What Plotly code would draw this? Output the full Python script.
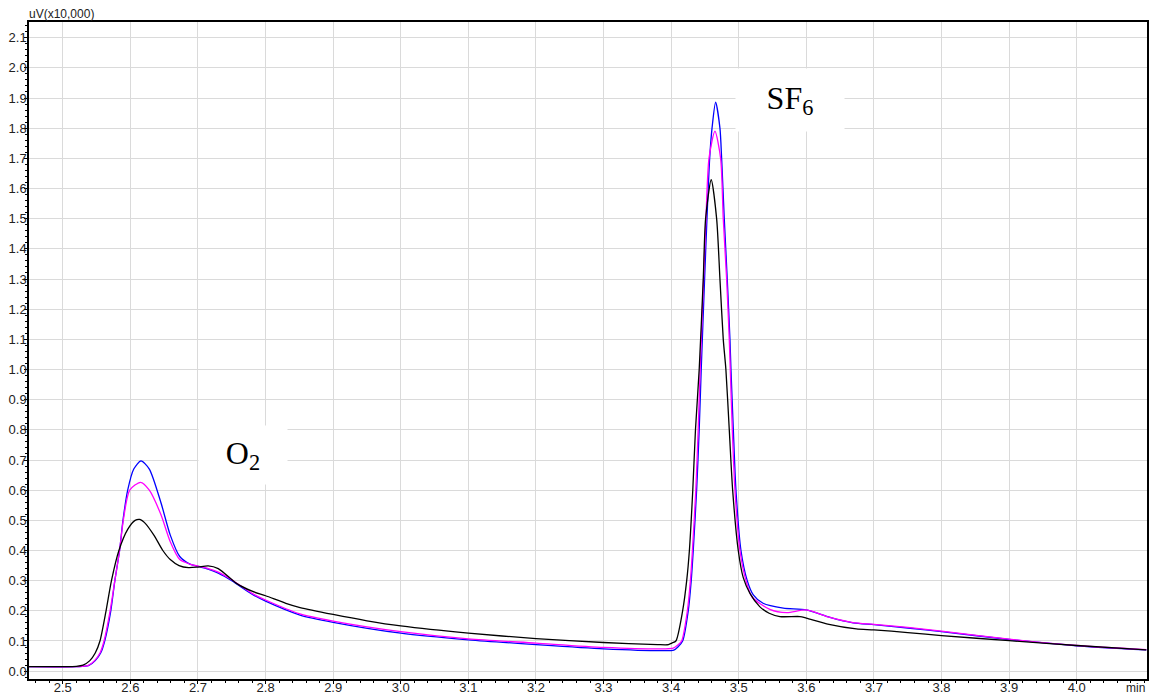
import plotly.graph_objects as go

# ---------------- data ----------------
black_x = [2.45, 2.50, 2.52, 2.530, 2.540, 2.548, 2.555, 2.564, 2.572, 2.583, 2.596, 2.607, 2.614,
           2.622, 2.635, 2.648, 2.659, 2.672, 2.686, 2.700, 2.715, 2.730, 2.757, 2.780, 2.800, 2.830,
           2.851, 2.900, 2.950, 3.000, 3.100, 3.200, 3.300, 3.380, 3.396, 3.401, 3.407, 3.417, 3.423,
           3.427, 3.432, 3.436, 3.4415, 3.4475, 3.451, 3.4593, 3.4673, 3.4722, 3.4771, 3.481,
           3.486, 3.491, 3.4993, 3.5067, 3.5166, 3.531, 3.545, 3.561, 3.5905, 3.600, 3.6335, 3.674,
           3.700, 3.750, 3.800, 3.900, 4.000, 4.103]
black_y = [0.015, 0.015, 0.016, 0.020, 0.035, 0.060, 0.100, 0.200, 0.300, 0.400, 0.470, 0.500, 0.503,
           0.490, 0.450, 0.400, 0.370, 0.350, 0.343, 0.345, 0.349, 0.340, 0.291, 0.265, 0.250, 0.225,
           0.211, 0.188, 0.167, 0.150, 0.126, 0.108, 0.095, 0.088, 0.088, 0.093, 0.100, 0.200, 0.300,
           0.400, 0.600, 0.800, 1.000, 1.300, 1.500, 1.629, 1.500, 1.300, 1.100, 1.000,
           0.800, 0.600, 0.400, 0.310, 0.258, 0.214, 0.192, 0.181, 0.181, 0.176, 0.155, 0.140,
           0.137, 0.128, 0.118, 0.101, 0.085, 0.0705]

blue_x = [2.45, 2.52, 2.538, 2.548, 2.556, 2.562, 2.571, 2.577, 2.584, 2.589, 2.596, 2.605, 2.6157,
          2.628, 2.645, 2.659, 2.673, 2.688, 2.700, 2.715, 2.730, 2.750, 2.780, 2.800, 2.851, 2.900,
          3.000, 3.100, 3.200, 3.300, 3.390, 3.404, 3.410, 3.417, 3.4253, 3.4297, 3.4327, 3.4377,
          3.4415, 3.4445, 3.4495, 3.453, 3.457, 3.4605, 3.4658, 3.4722, 3.4747, 3.4786,
          3.483, 3.487, 3.4885, 3.492, 3.4959, 3.5033, 3.5126, 3.5215, 3.536, 3.566, 3.600, 3.635,
          3.669, 3.700, 3.750, 3.800, 3.900, 4.000, 4.103]
blue_y = [0.015, 0.015, 0.018, 0.035, 0.060, 0.100, 0.200, 0.300, 0.400, 0.500, 0.600, 0.670, 0.697,
          0.670, 0.560, 0.451, 0.380, 0.355, 0.347, 0.338, 0.325, 0.300, 0.255, 0.232, 0.186, 0.162,
          0.126, 0.104, 0.088, 0.074, 0.068, 0.070, 0.080, 0.100, 0.200, 0.300, 0.400, 0.600,
          0.800, 1.000, 1.300, 1.500, 1.700, 1.800, 1.886, 1.800, 1.700, 1.500,
          1.300, 1.100, 1.000, 0.800, 0.600, 0.400, 0.300, 0.253, 0.225, 0.209, 0.203, 0.178,
          0.160, 0.154, 0.143, 0.131, 0.105, 0.084, 0.0705]

magenta_x = [2.45, 2.52, 2.537, 2.547, 2.555, 2.561, 2.570, 2.577, 2.584, 2.5895, 2.599, 2.615,
             2.628, 2.645, 2.659, 2.673, 2.688, 2.700, 2.715, 2.730, 2.750, 2.780, 2.800, 2.851, 2.900,
             3.000, 3.100, 3.200, 3.300, 3.390, 3.403, 3.409, 3.4155, 3.424, 3.4285, 3.4315, 3.4365,
             3.440, 3.443, 3.448, 3.4515, 3.456, 3.4648, 3.4732, 3.4771, 3.4821, 3.486,
             3.4875, 3.4905, 3.4944, 3.5018, 3.5107, 3.520, 3.546, 3.571, 3.600, 3.635, 3.669, 3.700,
             3.750, 3.800, 3.900, 4.000, 4.103]
magenta_y = [0.015, 0.015, 0.018, 0.035, 0.060, 0.100, 0.200, 0.300, 0.400, 0.500, 0.600, 0.626,
             0.600, 0.520, 0.429, 0.370, 0.355, 0.348, 0.340, 0.328, 0.303, 0.258, 0.236, 0.190, 0.166,
             0.131, 0.107, 0.093, 0.079, 0.074, 0.076, 0.085, 0.100, 0.200, 0.300, 0.400, 0.600,
             0.800, 1.000, 1.300, 1.500, 1.700, 1.790, 1.700, 1.500, 1.300, 1.100,
             1.000, 0.800, 0.600, 0.400, 0.300, 0.245, 0.205, 0.194, 0.203, 0.178, 0.161, 0.155,
             0.145, 0.133, 0.106, 0.085, 0.0715]

x_ticks = [2.5, 2.6, 2.7, 2.8, 2.9, 3.0, 3.1, 3.2, 3.3, 3.4, 3.5, 3.6, 3.7, 3.8, 3.9, 4.0]
y_ticks = [0.0, 0.1, 0.2, 0.3, 0.4, 0.5, 0.6, 0.7, 0.8, 0.9, 1.0, 1.1, 1.2, 1.3, 1.4, 1.5,
           1.6, 1.7, 1.8, 1.9, 2.0, 2.1]
y_unit = "uV(x10,000)"
x_unit = "min"
peak_labels = ["O<sub>2</sub>", "SF<sub>6</sub>"]
peak_pos = [(2.7665, 0.716), (3.5757, 1.892)]

# ---------------- figure ----------------
fig = go.Figure()
for xs, ys, col in [(blue_x, blue_y, "#0000ff"), (magenta_x, magenta_y, "#ff00ff"),
                    (black_x, black_y, "#000000")]:
    fig.add_trace(go.Scatter(x=xs, y=ys, mode="lines",
                             line=dict(color=col, width=1.3, shape="spline", smoothing=0.7),
                             hoverinfo="skip", showlegend=False))

tick_font = dict(family="Liberation Sans, Arial, sans-serif", size=13, color="#222222")

fig.update_xaxes(range=[2.45, 4.104], tickvals=x_ticks, ticktext=[f"{v:.1f}" for v in x_ticks],
                 showgrid=True, gridcolor="#dadada", gridwidth=1, zeroline=False,
                 showline=True, linecolor="#000000", linewidth=1.5, mirror=True,
                 ticks="outside", ticklen=3, tickcolor="#000000", tickfont=tick_font,
                 automargin=False, ticklabelstandoff=-7,
                 minor=dict(dtick=0.02, tick0=2.5, ticks="outside", ticklen=2,
                            tickcolor="#000000", showgrid=False))
fig.update_yaxes(range=[-0.026, 2.152], tickvals=y_ticks, ticktext=[f"{v:.1f}" for v in y_ticks],
                 showgrid=True, gridcolor="#dadada", gridwidth=1, zeroline=False,
                 showline=True, linecolor="#000000", linewidth=1.5, mirror=True,
                 ticks="outside", ticklen=3, tickcolor="#000000", tickfont=tick_font,
                 ticklabelstandoff=-5, automargin=False,
                 minor=dict(dtick=0.02, tick0=0, ticks="outside", ticklen=2,
                            tickcolor="#000000", showgrid=False))

annotations = [
    dict(text=y_unit, xref="paper", yref="paper", x=-0.002, y=1.0, xanchor="left",
         yanchor="bottom", showarrow=False, yshift=-1,
         font=dict(family="Liberation Sans, Arial, sans-serif", size=12, color="#222222")),
    dict(text=x_unit, xref="paper", yref="paper", x=1.0, y=0.0, xanchor="right",
         yanchor="middle", showarrow=False, yshift=-9,
         font=dict(family="Liberation Sans, Arial, sans-serif", size=12, color="#222222")),
]
sizes = [(86, 56), (106, 60)]
for (lbl, (px_, py_)), (w, h) in zip(zip(peak_labels, peak_pos), sizes):
    annotations.append(dict(text=lbl, x=px_, y=py_, xref="x", yref="y", showarrow=False,
                            bgcolor="#ffffff", width=w, height=h, align="center",
                            font=dict(family="Liberation Serif, Times New Roman, serif",
                                      size=32, color="#000000")))

fig.update_layout(width=1149, height=694, margin=dict(l=29, r=2, t=22, b=15),
                  paper_bgcolor="#ffffff", plot_bgcolor="#ffffff",
                  annotations=annotations, showlegend=False)

fig.write_html("out.html")
